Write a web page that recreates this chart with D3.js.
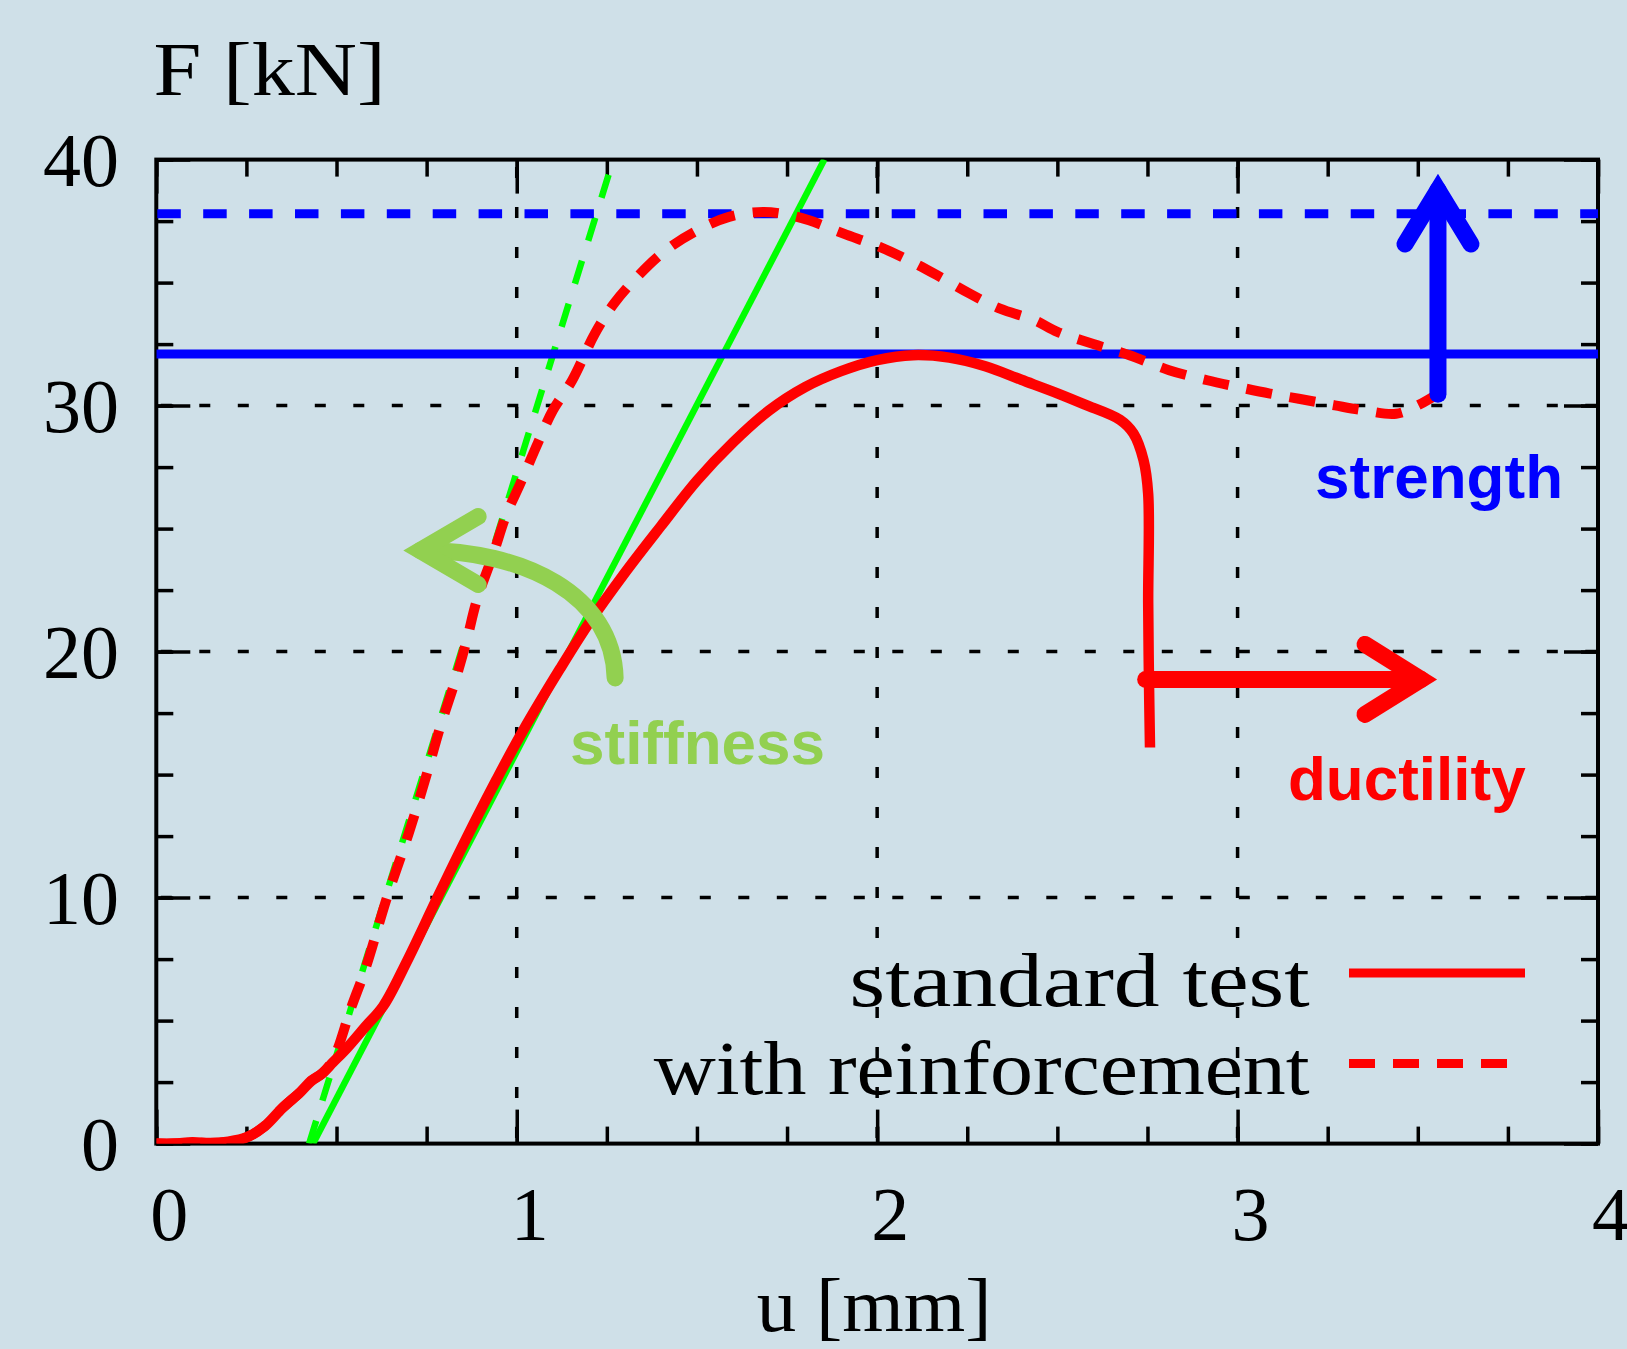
<!DOCTYPE html>
<html><head><meta charset="utf-8">
<script src="https://cdn.jsdelivr.net/npm/d3@7"></script>
<style>html,body{margin:0;padding:0;background:#cfe0e8;} svg{display:block}</style>
</head><body>
<svg id="chart" width="1627" height="1349"></svg>
<script>
// ---------- data ----------
const standardU = [0,0.05,0.1,0.15,0.2,0.25,0.3,0.35,0.4,0.43,0.46,0.49,0.53,0.58,0.63,0.695,0.78,0.86,0.944,1.018,1.12,1.2,1.3,1.4,1.5,1.6,1.7,1.8,1.9,2.0,2.1,2.2,2.3,2.4,2.5,2.575,2.674,2.711,2.739,2.752,2.752,2.754,2.757];
const standardF = [0,0,0.05,0.02,0.08,0.25,0.7,1.45,2.1,2.55,2.85,3.3,3.9,4.75,5.6,7.4,10.0,12.4,14.8,16.8,19.3,21.15,23.2,25.1,26.95,28.5,29.8,30.75,31.4,31.85,32.05,31.95,31.6,31.05,30.5,30.05,29.42,28.87,27.79,26.4,22.0,19.0,16.1];
const reinfU = [0,0.05,0.1,0.15,0.2,0.25,0.3,0.35,0.4,0.43,0.46,0.49,0.54,0.58,0.64,0.70,0.75,0.787,0.829,0.861,0.889,0.935,0.972,1.009,1.058,1.10,1.154,1.217,1.27,1.334,1.408,1.493,1.589,1.684,1.758,1.811,1.907,2.007,2.087,2.166,2.257,2.341,2.437,2.50,2.60,2.70,2.81,2.916,3.0,3.09,3.17,3.27,3.35,3.44,3.50,3.58];
const reinfF = [0,0,0.05,0.02,0.08,0.25,0.7,1.45,2.1,2.55,2.85,3.4,5.5,7.1,10.0,12.6,15.0,16.9,18.8,20.45,22.07,23.97,25.6,26.8,28.46,29.8,31.03,32.93,34.15,35.23,36.25,37.06,37.67,37.87,37.74,37.53,36.99,36.45,35.91,35.3,34.55,33.94,33.47,33.0,32.5,32.05,31.44,31.03,30.76,30.49,30.28,30.01,29.81,29.67,30.01,30.7];
const strengthLevels = [32.1, 37.8];          // standard, reinforced
const stiffnessOffsets = [0.435, 0.424];      // u at F=0
const stiffnessSlopes = [28.2, 47.4];         // kN/mm
const xTickValues = [0,1,2,3,4];
const xTickLabels = ["0","1","2","3","4"];
const yTickValues = [0,10,20,30,40];
const yTickLabels = ["0","10","20","30","40"];
const xMinorTicks = d3.range(0,4.001,0.25);
const yMinorTicks = d3.range(0,40.001,2.5);
const legendLabels = ["standard test","with reinforcement"];
const annotationLabels = ["strength","stiffness","ductility"];
// annotation geometry (data coords)
const strengthArrow = {u:3.556, F0:30.46, F1:38.76};
const ductilityArrow = {F:18.87, u0:2.745, u1:3.509};
const stiffnessArrow = [[1.273,18.93],[1.267,22.28],[1.023,24.13],[0.732,24.11]];

// ---------- setup ----------
const svg = d3.select("#chart");
const x = d3.scaleLinear().domain([0,4]).range([156.3,1598]);
const y = d3.scaleLinear().domain([0,40]).range([1143.6,159.6]);
const BG = "#cfe0e8";
svg.append("rect").attr("width",1627).attr("height",1349).attr("fill",BG);

svg.append("defs").append("clipPath").attr("id","plotclip").append("rect")
  .attr("x",x(0)).attr("y",y(40)).attr("width",x(4)-x(0)).attr("height",y(0)-y(40));

// grid
const grid = svg.append("g").attr("stroke","#000").attr("stroke-width",3.5);
grid.selectAll(".gv").data([1,2,3]).enter().append("line")
  .attr("x1",d=>x(d)).attr("x2",d=>x(d)).attr("y1",y(0)).attr("y2",y(40))
  .attr("stroke-dasharray","11,29").attr("stroke-dashoffset",-5.6);
grid.selectAll(".gh").data([10,20,30]).enter().append("line")
  .attr("y1",d=>y(d)).attr("y2",d=>y(d)).attr("x1",x(0)).attr("x2",x(4))
  .attr("stroke-dasharray","11,27.5").attr("stroke-dashoffset",-4.5);

// ticks via d3 axes (inward, mirrored)
function styleAxis(g){ g.select(".domain").remove(); g.selectAll("line").attr("stroke","#000").attr("stroke-width",3.5); g.selectAll("text").remove(); }
const minorLen = 17, majorLen = 34;
svg.append("g").attr("transform",`translate(0,${y(0)})`).call(d3.axisBottom(x).tickValues(xMinorTicks).tickSize(-minorLen)).call(styleAxis);
svg.append("g").attr("transform",`translate(0,${y(0)})`).call(d3.axisBottom(x).tickValues(xTickValues).tickSize(-majorLen)).call(styleAxis);
svg.append("g").attr("transform",`translate(0,${y(40)})`).call(d3.axisTop(x).tickValues(xMinorTicks).tickSize(-minorLen)).call(styleAxis);
svg.append("g").attr("transform",`translate(0,${y(40)})`).call(d3.axisTop(x).tickValues(xTickValues).tickSize(-majorLen)).call(styleAxis);
svg.append("g").attr("transform",`translate(${x(0)},0)`).call(d3.axisLeft(y).tickValues(yMinorTicks).tickSize(-minorLen)).call(styleAxis);
svg.append("g").attr("transform",`translate(${x(0)},0)`).call(d3.axisLeft(y).tickValues(yTickValues).tickSize(-majorLen)).call(styleAxis);
svg.append("g").attr("transform",`translate(${x(4)},0)`).call(d3.axisRight(y).tickValues(yMinorTicks).tickSize(-minorLen)).call(styleAxis);
svg.append("g").attr("transform",`translate(${x(4)},0)`).call(d3.axisRight(y).tickValues(yTickValues).tickSize(-majorLen)).call(styleAxis);

// frame
svg.append("rect").attr("x",x(0)).attr("y",y(40)).attr("width",x(4)-x(0)).attr("height",y(0)-y(40))
  .attr("fill","none").attr("stroke","#000").attr("stroke-width",4);

// data layer
const plot = svg.append("g").attr("clip-path","url(#plotclip)");
// stiffness lines (green)
stiffnessOffsets.forEach((u0,i)=>{
  const k = stiffnessSlopes[i];
  plot.append("line").attr("x1",x(u0)).attr("y1",y(0)).attr("x2",x(u0+40/k)).attr("y2",y(40))
    .attr("stroke","#00ff00").attr("stroke-width",6.5)
    .attr("stroke-dasharray", i===1 ? "24,21" : null);
});
// strength lines (blue)
strengthLevels.forEach((F,i)=>{
  plot.append("line").attr("x1",x(0)).attr("x2",x(4)).attr("y1",y(F)).attr("y2",y(F))
    .attr("stroke","#0000ff").attr("stroke-width",9)
    .attr("stroke-dasharray", i===1 ? "23.5,22.4" : null).attr("stroke-dashoffset",-1);
});
// red curves
const line = d3.line().x(d=>x(d[0])).y(d=>y(d[1])).curve(d3.curveCatmullRom.alpha(0.5));
plot.append("path").datum(standardU.map((u,i)=>[u,standardF[i]])).attr("d",line)
  .attr("fill","none").attr("stroke","#ff0000").attr("stroke-width",10.5).attr("stroke-linejoin","round");
plot.append("path").datum(reinfU.map((u,i)=>[u,reinfF[i]])).attr("d",line)
  .attr("fill","none").attr("stroke","#ff0000").attr("stroke-width",10).attr("stroke-linejoin","round")
  .attr("stroke-dasharray","26,18");

// ---------- annotations ----------
function arrowHead(g, vx, vy, dx, dy, len, half, color, w){
  const px = -dy, py = dx;
  const bx = vx - dx*len, by = vy - dy*len;
  g.append("path").attr("d",`M${bx+px*half},${by+py*half}L${vx},${vy}L${bx-px*half},${by-py*half}`)
    .attr("fill","none").attr("stroke",color).attr("stroke-width",w)
    .attr("stroke-linecap","round").attr("stroke-linejoin","miter").attr("stroke-miterlimit",10);
}
const ann = svg.append("g");
// strength
ann.append("line").attr("x1",x(strengthArrow.u)).attr("x2",x(strengthArrow.u))
  .attr("y1",y(strengthArrow.F0)).attr("y2",y(strengthArrow.F1))
  .attr("stroke","#0000ff").attr("stroke-width",17).attr("stroke-linecap","round");
arrowHead(ann, x(strengthArrow.u), y(strengthArrow.F1), 0, -1, 54, 33, "#0000ff", 17);
// ductility
ann.append("line").attr("x1",x(ductilityArrow.u0)).attr("x2",x(ductilityArrow.u1))
  .attr("y1",y(ductilityArrow.F)).attr("y2",y(ductilityArrow.F))
  .attr("stroke","#ff0000").attr("stroke-width",17).attr("stroke-linecap","round");
arrowHead(ann, x(ductilityArrow.u1), y(ductilityArrow.F), 1, 0, 56, 35, "#ff0000", 17);
// stiffness
const sp = stiffnessArrow.map(d=>[x(d[0]),y(d[1])]);
ann.append("path").attr("d",`M${sp[0][0]},${sp[0][1]}C${sp[1][0]},${sp[1][1]} ${sp[2][0]},${sp[2][1]} ${sp[3][0]},${sp[3][1]}`)
  .attr("fill","none").attr("stroke","#92d050").attr("stroke-width",17).attr("stroke-linecap","round");
arrowHead(ann, sp[3][0], sp[3][1], -1, 0, 58, 34, "#92d050", 17);

const sans = "'Liberation Sans', Arial, sans-serif";
ann.append("text").attr("x",1315).attr("y",498).text(annotationLabels[0])
  .attr("font-family",sans).attr("font-weight","bold").attr("font-size",62).attr("fill","#0000ff");
ann.append("text").attr("x",570).attr("y",764).text(annotationLabels[1])
  .attr("font-family",sans).attr("font-weight","bold").attr("font-size",62).attr("fill","#92d050");
ann.append("text").attr("x",1288).attr("y",800).text(annotationLabels[2])
  .attr("font-family",sans).attr("font-weight","bold").attr("font-size",62).attr("fill","#ff0000");

// ---------- labels ----------
const serif = "'Liberation Serif', 'Times New Roman', serif";
const labels = svg.append("g").attr("font-family",serif).attr("fill","#000").attr("font-size",76);
labels.selectAll(".xl").data(xTickValues).enter().append("text")
  .attr("x",d=>x(d)+13).attr("y",1240).attr("text-anchor","middle").text((d,i)=>xTickLabels[i]);
labels.selectAll(".yl").data(yTickValues).enter().append("text")
  .attr("x",119).attr("y",d=>y(d)+26).attr("text-anchor","end").text((d,i)=>yTickLabels[i]);
labels.append("text").attr("x",153.6).attr("y",95).text("F [kN]")
  .attr("textLength",232).attr("lengthAdjust","spacingAndGlyphs");
labels.append("text").attr("x",756.7).attr("y",1331).text("u [mm]")
  .attr("textLength",235).attr("lengthAdjust","spacingAndGlyphs");

// legend
labels.append("text").attr("x",849.6).attr("y",1006).text(legendLabels[0])
  .attr("textLength",460).attr("lengthAdjust","spacingAndGlyphs");
labels.append("text").attr("x",653.7).attr("y",1094).text(legendLabels[1])
  .attr("textLength",656).attr("lengthAdjust","spacingAndGlyphs");
svg.append("line").attr("x1",1349).attr("x2",1525).attr("y1",973).attr("y2",973)
  .attr("stroke","#ff0000").attr("stroke-width",9);
svg.append("line").attr("x1",1349).attr("x2",1512).attr("y1",1063.6).attr("y2",1063.6)
  .attr("stroke","#ff0000").attr("stroke-width",9).attr("stroke-dasharray","26,18");
</script>
</body></html>
